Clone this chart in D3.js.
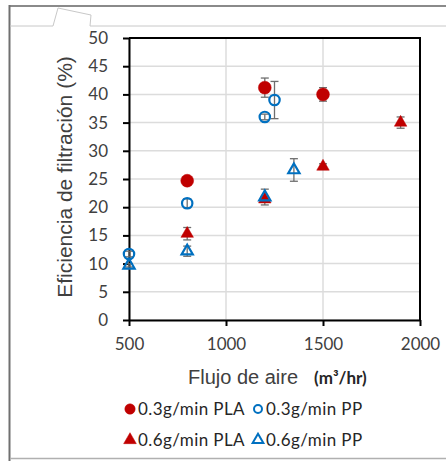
<!DOCTYPE html>
<html>
<head>
<meta charset="utf-8">
<script src="https://cdn.jsdelivr.net/npm/d3@7"></script>
<style>
  body { margin: 0; background: #fff; }
  svg { display: block; }
</style>
</head>
<body>
<div class="container"></div>
<script>
// series values (x = flujo, y = eficiencia, e = error bar)
var pla03X = [800, 1200, 1500];
var pla03Y = [24.7, 41.2, 40.0];
var pla03E = [0.5, 1.7, 1.2];

var pp03X = [500, 800, 1200, 1250];
var pp03Y = [11.7, 20.7, 36.0, 39.0];
var pp03E = [0.5, 0.8, 0.5, 3.3];

var pla06X = [800, 1200, 1500, 1900];
var pla06Y = [15.3, 21.4, 27.2, 35.0];
var pla06E = [1.1, 0.5, 0.5, 1.0];

var pp06X = [500, 800, 1200, 1350];
var pp06Y = [9.7, 12.2, 21.8, 26.6];
var pp06E = [0.3, 0.9, 1.4, 2.0];

var xTicks = [500, 1000, 1500, 2000];
var yTicks = [0, 5, 10, 15, 20, 25, 30, 35, 40, 45, 50];
var seriesNames = ["0.3g/min PLA", "0.3g/min PP", "0.6g/min PLA", "0.6g/min PP"];

var red = "#c00000", blue = "#0070c0";

var series = [
  {name: seriesNames[0], xs: pla03X, ys: pla03Y, es: pla03E, shape: "circle", fill: true, color: red},
  {name: seriesNames[1], xs: pp03X, ys: pp03Y, es: pp03E, shape: "circle", fill: false, color: blue},
  {name: seriesNames[2], xs: pla06X, ys: pla06Y, es: pla06E, shape: "triangle", fill: true, color: red},
  {name: seriesNames[3], xs: pp06X, ys: pp06Y, es: pp06E, shape: "triangle", fill: false, color: blue}
];

var W = 446, H = 461;
var svg = d3.select(".container").append("svg")
  .attr("width", W).attr("height", H);

// outer frame of the screenshot
svg.append("line").attr("x1", 9).attr("y1", 6).attr("x2", W).attr("y2", 6)
  .attr("stroke", "#8a8a8a").attr("stroke-width", 2);
svg.append("line").attr("x1", 9.5).attr("y1", 5).attr("x2", 9.5).attr("y2", H)
  .attr("stroke", "#707070").attr("stroke-width", 2);
svg.append("line").attr("x1", 10).attr("y1", 458.5).attr("x2", W).attr("y2", 458.5)
  .attr("stroke", "#b0b0b0").attr("stroke-width", 1.5);
svg.append("polyline")
  .attr("points", "10,26 53,26 58,8 91,15 90,26 446,26")
  .attr("fill", "none").attr("stroke", "#c8c8c8").attr("stroke-width", 1);

var x = d3.scaleLinear().domain([500, 2000]).range([129, 420]);
var y = d3.scaleLinear().domain([0, 50]).range([320, 38]);

var g = svg.append("g");

// gridlines
g.selectAll(".hgrid").data(yTicks).enter().append("line")
  .attr("x1", x(500)).attr("x2", x(2000))
  .attr("y1", function(d) { return y(d) }).attr("y2", function(d) { return y(d) })
  .attr("stroke", "#dcdcdc").attr("stroke-width", 1.5);
g.selectAll(".vgrid").data(xTicks).enter().append("line")
  .attr("y1", y(0)).attr("y2", y(50))
  .attr("x1", function(d) { return x(d) }).attr("x2", function(d) { return x(d) })
  .attr("stroke", "#dcdcdc").attr("stroke-width", 1.5);

// axes
var xAxis = d3.axisBottom(x).tickValues(xTicks).tickFormat(d3.format("d"))
  .tickSize(6).tickSizeOuter(0).tickPadding(12);
var yAxis = d3.axisLeft(y).tickValues(yTicks).tickSize(6).tickSizeOuter(0).tickPadding(15);

var gx = g.append("g").attr("transform", "translate(0," + y(0) + ")").call(xAxis);
var gy = g.append("g").attr("transform", "translate(" + x(500) + ",0)").call(yAxis);
[gx, gy].forEach(function(a) {
  a.selectAll("path,line").attr("stroke", "#000").attr("stroke-width", 2);
  a.selectAll("text").attr("fill", "#404040")
    .style("font-family", "Lato, 'Open Sans', sans-serif").style("font-size", "17px");
});

// top and right border of the plot
g.append("path")
  .attr("d", "M" + x(500) + "," + y(50) + "H" + x(2000) + "V" + y(0))
  .attr("fill", "none").attr("stroke", "#000").attr("stroke-width", 2);

// axis titles
svg.append("text")
  .attr("transform", "translate(72,177) rotate(-90)")
  .attr("text-anchor", "middle")
  .attr("fill", "#404040")
  .style("font-family", "'Liberation Sans', Arial, sans-serif").style("font-size", "21px")
  .text("Eficiencia de filtración (%)");

var xt = svg.append("text").attr("x", 188).attr("y", 384)
  .attr("fill", "#404040")
  .style("font-family", "'Liberation Sans', Arial, sans-serif").style("font-size", "20px");
xt.append("tspan").text("Flujo de aire");
xt.append("tspan").attr("dx", 16)
  .attr("fill", "#262626")
  .style("font-family", "Lato, 'Open Sans', sans-serif").style("font-size", "17px").style("font-weight", "bold")
  .text("(m³/hr)");

function symbolPath(shape, size) {
  return d3.symbol().type(shape === "circle" ? d3.symbolCircle : d3.symbolTriangle).size(size)();
}

// error bars
series.forEach(function(s) {
  var idx = d3.range(s.xs.length);
  var eb = g.append("g").attr("stroke", "#6e6e6e").attr("stroke-width", 1.3);
  eb.selectAll(".v").data(idx).enter().append("line")
    .attr("x1", function(i) { return x(s.xs[i]) }).attr("x2", function(i) { return x(s.xs[i]) })
    .attr("y1", function(i) { return y(s.ys[i] + s.es[i]) })
    .attr("y2", function(i) { return y(s.ys[i] - s.es[i]) });
  eb.selectAll(".t").data(idx).enter().append("line")
    .attr("x1", function(i) { return x(s.xs[i]) - 4 }).attr("x2", function(i) { return x(s.xs[i]) + 4 })
    .attr("y1", function(i) { return y(s.ys[i] + s.es[i]) })
    .attr("y2", function(i) { return y(s.ys[i] + s.es[i]) });
  eb.selectAll(".b").data(idx).enter().append("line")
    .attr("x1", function(i) { return x(s.xs[i]) - 4 }).attr("x2", function(i) { return x(s.xs[i]) + 4 })
    .attr("y1", function(i) { return y(s.ys[i] - s.es[i]) })
    .attr("y2", function(i) { return y(s.ys[i] - s.es[i]) });
});

// markers
series.forEach(function(s) {
  var idx = d3.range(s.xs.length);
  var sz = s.shape === "circle" ? (s.fill ? 130 : 85) : (s.fill ? 68 : 55);
  g.selectAll(null).data(idx).enter().append("path")
    .attr("d", symbolPath(s.shape, sz))
    .attr("transform", function(i) { return "translate(" + x(s.xs[i]) + "," + y(s.ys[i]) + ")" })
    .attr("fill", s.fill ? s.color : "none")
    .attr("stroke", s.color)
    .attr("stroke-width", s.fill ? 0.5 : 2.2);
});

// legend
var legPos = [[130, 409], [258, 409], [130, 440], [258, 440]];
var leg = svg.append("g").selectAll("g").data(series).enter().append("g")
  .attr("transform", function(d, i) { return "translate(" + legPos[i][0] + "," + legPos[i][1] + ")" });
leg.append("path")
  .attr("d", function(s) { return symbolPath(s.shape, s.shape === "circle" ? (s.fill ? 85 : 50) : (s.fill ? 70 : 50)) })
  .attr("fill", function(s) { return s.fill ? s.color : "none" })
  .attr("stroke", function(s) { return s.color })
  .attr("stroke-width", function(s) { return s.fill ? 0.5 : 2 });
leg.append("text").attr("x", 8).attr("dy", "0.35em")
  .attr("fill", "#262626")
  .style("font-family", "Lato, 'Open Sans', sans-serif").style("font-size", "17px")
  .style("letter-spacing", "0.4px")
  .text(function(s) { return s.name });
</script>
</body>
</html>
